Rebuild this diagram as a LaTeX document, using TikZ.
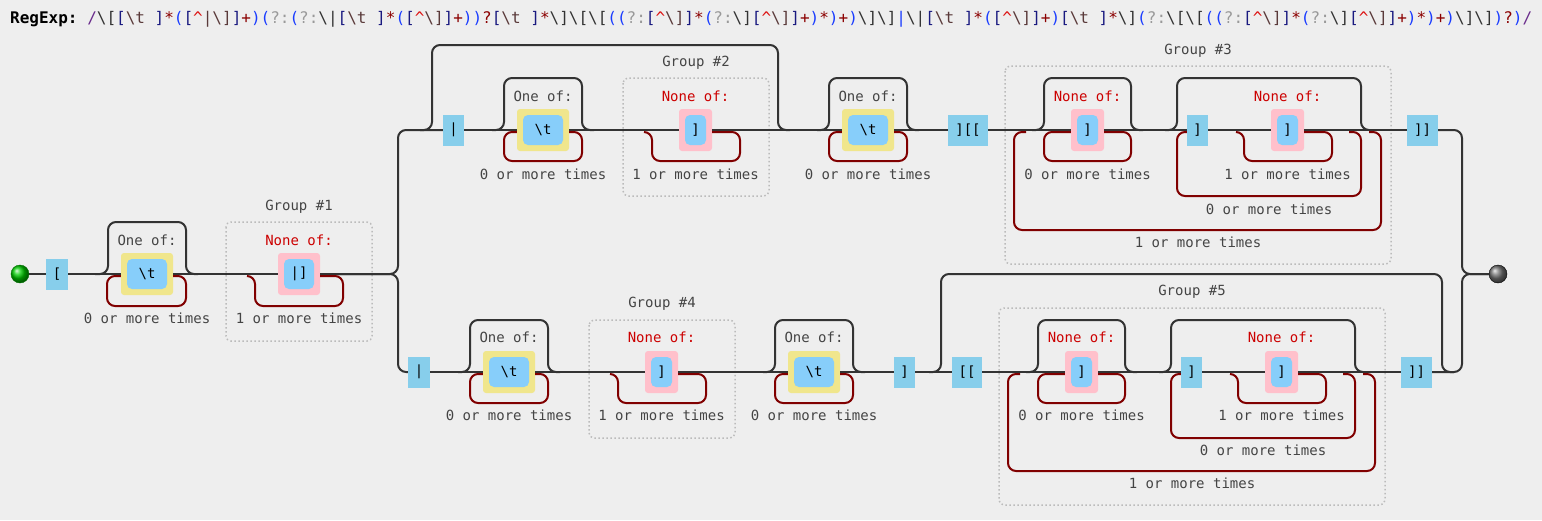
\documentclass[tikz,border=0pt]{standalone}
\usepackage{fontspec}
\setmonofont{DejaVu Sans Mono}
\usetikzlibrary{positioning}

\definecolor{bgcol}{HTML}{EEEEEE}
\definecolor{railcol}{HTML}{333333}
\definecolor{loopcol}{HTML}{800000}
\definecolor{litcol}{HTML}{87CEEB}
\definecolor{incol}{HTML}{87CEFA}
\definecolor{onecol}{HTML}{F0E68C}
\definecolor{nonecol}{HTML}{FFC0CB}
\definecolor{txtcol}{HTML}{444444}
\definecolor{negcol}{HTML}{CC0000}
\definecolor{grpcol}{HTML}{BBBBBB}
% colours of the source line
\definecolor{rxdelim}{HTML}{6A2C8C}
\definecolor{rxesc}{HTML}{333333}
\definecolor{rxset}{HTML}{1A1A80}
\definecolor{rxin}{HTML}{5A3A3A}
\definecolor{rxquant}{HTML}{8B0000}
\definecolor{rxgroup}{HTML}{1A3CFF}
\definecolor{rxnc}{HTML}{999999}
\definecolor{rxneg}{HTML}{DD1111}

\newcommand{\bsl}{\textbackslash}
\newcommand{\rxd}[1]{\textcolor{rxdelim}{#1}}
\newcommand{\rxe}[1]{\textcolor{rxesc}{#1}}
\newcommand{\rxb}[1]{\textcolor{rxset}{#1}}
\newcommand{\rxc}[1]{\textcolor{rxin}{#1}}
\newcommand{\rxq}[1]{\textcolor{rxquant}{#1}}
\newcommand{\rxg}[1]{\textcolor{rxgroup}{#1}}
\newcommand{\rxn}[1]{\textcolor{rxnc}{#1}}
\newcommand{\rxcar}{\textcolor{rxneg}{\textasciicircum}}

\begin{document}
\begin{tikzpicture}[x=1pt,y=-1pt,
    every node/.style={font=\ttfamily\fontsize{14}{16}\selectfont},
    rail/.style={draw=railcol,line width=2pt,rounded corners=8pt},
    rep/.style={draw=loopcol,line width=2pt,rounded corners=8pt},
    lit/.style={fill=litcol,minimum height=31pt,inner sep=0pt},
    oneof/.style={fill=onecol,rounded corners=3pt,minimum width=52pt,minimum height=42pt,inner sep=0pt},
    noneof/.style={fill=nonecol,rounded corners=3pt,minimum width=33pt,minimum height=42pt,inner sep=0pt},
    chr/.style={fill=incol,rounded corners=5pt,minimum width=21pt,minimum height=30pt,inner sep=0pt},
    grp/.style={draw=grpcol,line width=1.5pt,dash pattern=on 1.5pt off 2.5pt,rounded corners=5pt},
    lbl/.style={text=txtcol},
    neg/.style={text=negcol}]
    \useasboundingbox (0,0) rectangle (1542,520);
    \fill[bgcol] (0,0) rectangle (1542,520);

    % source line
    \node[anchor=west,inner sep=0pt,font=\ttfamily\fontsize{16}{18}\selectfont] (title) at (10,19)
      {\textbf{RegExp:}\ \rxd{/}\rxe{\bsl[}\rxb{[}\rxc{\bsl t\ }\rxb{]}\rxq{*}%
       \rxg{(}\rxb{[}\rxcar\rxc{|\bsl]}\rxb{]}\rxq{+}\rxg{)}%
       \rxg{(}\rxn{?:}\rxg{(}\rxn{?:}\rxe{\bsl|}\rxb{[}\rxc{\bsl t\ }\rxb{]}\rxq{*}%
       \rxg{(}\rxb{[}\rxcar\rxc{\bsl]}\rxb{]}\rxq{+}\rxg{)}\rxg{)}\rxq{?}%
       \rxb{[}\rxc{\bsl t\ }\rxb{]}\rxq{*}\rxe{\bsl]\bsl[\bsl[}%
       \rxg{((}\rxn{?:}\rxb{[}\rxcar\rxc{\bsl]}\rxb{]}\rxq{*}%
       \rxg{(}\rxn{?:}\rxe{\bsl]}\rxb{[}\rxcar\rxc{\bsl]}\rxb{]}\rxq{+}\rxg{)}\rxq{*}\rxg{)}\rxq{+}\rxg{)}%
       \rxe{\bsl]\bsl]}\rxg{|}\rxe{\bsl|}\rxb{[}\rxc{\bsl t\ }\rxb{]}\rxq{*}%
       \rxg{(}\rxb{[}\rxcar\rxc{\bsl]}\rxb{]}\rxq{+}\rxg{)}%
       \rxb{[}\rxc{\bsl t\ }\rxb{]}\rxq{*}\rxe{\bsl]}%
       \rxg{(}\rxn{?:}\rxe{\bsl[\bsl[}%
       \rxg{((}\rxn{?:}\rxb{[}\rxcar\rxc{\bsl]}\rxb{]}\rxq{*}%
       \rxg{(}\rxn{?:}\rxe{\bsl]}\rxb{[}\rxcar\rxc{\bsl]}\rxb{]}\rxq{+}\rxg{)}\rxq{*}\rxg{)}\rxq{+}\rxg{)}%
       \rxe{\bsl]\bsl]}\rxg{)}\rxq{?}\rxg{)}\rxd{/}};

    % group frames
    \draw[grp] (226,222) rectangle (372,341);
    \draw[grp] (623,78) rectangle (769,196);
    \draw[grp] (1005,66) rectangle (1391,264);
    \draw[grp] (589,320) rectangle (735,438);
    \draw[grp] (999,308) rectangle (1385,505);
    \node[lbl] (g1) at (299,207) {Group \#1};
    \node[lbl] (g2) at (696,63) {Group \#2};
    \node[lbl] (g3) at (1198,51) {Group \#3};
    \node[lbl] (g4) at (662,304) {Group \#4};
    \node[lbl] (g5) at (1192,292) {Group \#5};

    % start
    \node[circle,minimum size=18pt,inner sep=0pt,draw=green!45!black,ball color=green!80!black] (start) at (20,274) {};
    \node[lit,minimum width=22pt] (lb1) at (57,274) {[};
    \node[lbl] (cs1l) at (147,240) {One of:};
    \node[oneof] (cs1) at (147,274) {};
    \node[chr,minimum width=40pt] (cs1c) at (cs1) {\textbackslash t};
    \node[lbl] (r1) at (147,318) {0 or more times};
    \node[neg] (pk1l) at (299,240) {None of:};
    \node[noneof,minimum width=42pt] (pk1) at (299,274) {};
    \node[chr,minimum width=30pt] (pk1c) at (pk1) {|]};
    \node[lbl] (r2) at (299,318) {1 or more times};

    % upper branch
    \node[lit,minimum width=21pt] (lb2) at (453.5,130) {|};
    \node[lbl] (cs2l) at (543,96) {One of:};
    \node[oneof] (cs2) at (543,130) {};
    \node[chr,minimum width=40pt] (cs2c) at (cs2) {\textbackslash t};
    \node[lbl] (r3) at (543,174) {0 or more times};
    \node[neg] (pk2l) at (695.5,96) {None of:};
    \node[noneof] (pk2) at (695.5,130) {};
    \node[chr] (pk2c) at (pk2) {]};
    \node[lbl] (r4) at (695.5,174) {1 or more times};
    \node[lbl] (cs3l) at (868,96) {One of:};
    \node[oneof] (cs3) at (868,130) {};
    \node[chr,minimum width=40pt] (cs3c) at (cs3) {\textbackslash t};
    \node[lbl] (r5) at (868,174) {0 or more times};
    \node[lit,minimum width=40pt] (lb4) at (968,130) {][[};
    \node[neg] (pk3l) at (1087.5,96) {None of:};
    \node[noneof] (pk3) at (1087.5,130) {};
    \node[chr] (pk3c) at (pk3) {]};
    \node[lbl] (r6) at (1087.5,174) {0 or more times};
    \node[lit,minimum width=21pt] (lb5) at (1197.5,130) {]};
    \node[neg] (pk4l) at (1287.5,96) {None of:};
    \node[noneof] (pk4) at (1287.5,130) {};
    \node[chr] (pk4c) at (pk4) {]};
    \node[lbl] (r7) at (1287.5,174) {1 or more times};
    \node[lbl] (r8) at (1269,209) {0 or more times};
    \node[lbl] (r9) at (1198,242) {1 or more times};
    \node[lit,minimum width=31pt] (lb6) at (1422.5,130) {]]};

    % lower branch
    \node[lit,minimum width=22pt] (lb3) at (419,372) {|};
    \node[lbl] (cs4l) at (509,337) {One of:};
    \node[oneof] (cs4) at (509,372) {};
    \node[chr,minimum width=40pt] (cs4c) at (cs4) {\textbackslash t};
    \node[lbl] (r10) at (509,415) {0 or more times};
    \node[neg] (pk5l) at (661.5,337) {None of:};
    \node[noneof] (pk5) at (661.5,372) {};
    \node[chr] (pk5c) at (pk5) {]};
    \node[lbl] (r11) at (661.5,415) {1 or more times};
    \node[lbl] (cs5l) at (814,337) {One of:};
    \node[oneof] (cs5) at (814,372) {};
    \node[chr,minimum width=40pt] (cs5c) at (cs5) {\textbackslash t};
    \node[lbl] (r12) at (814,415) {0 or more times};
    \node[lit,minimum width=21pt] (lb7) at (904.5,372) {]};
    \node[lit,minimum width=30pt] (lb8) at (967,372) {[[};
    \node[neg] (pk6l) at (1081.5,337) {None of:};
    \node[noneof] (pk6) at (1081.5,372) {};
    \node[chr] (pk6c) at (pk6) {]};
    \node[lbl] (r13) at (1081.5,415) {0 or more times};
    \node[lit,minimum width=21pt] (lb10) at (1191.5,372) {]};
    \node[neg] (pk7l) at (1281.5,337) {None of:};
    \node[noneof] (pk7) at (1281.5,372) {};
    \node[chr] (pk7c) at (pk7) {]};
    \node[lbl] (r14) at (1281.5,415) {1 or more times};
    \node[lbl] (r15) at (1263,450) {0 or more times};
    \node[lbl] (r16) at (1192,483) {1 or more times};
    \node[lit,minimum width=31pt] (lb9) at (1416.5,372) {]]};

    % end
    \node[circle,minimum size=18pt,inner sep=0pt,draw=black,ball color=black!55] (end) at (1498,274) {};

    % rails
    \draw[rail] (start) -- (lb1);
    \draw[rail] (lb1) -- (cs1);
    \draw[rail] (cs1) -- (pk1);
    \draw[rail] (pk1.east) -| (398,130) -- (lb2);
    \draw[rail] (pk1.east) -| (398,372) -- (lb3);
    \draw[rail] (lb2) -- (cs2);
    \draw[rail] (cs2) -- (pk2);
    \draw[rail] (pk2) -- (cs3);
    \draw[rail] (cs3) -- (lb4);
    \draw[rail] (lb4) -- (pk3);
    \draw[rail] (pk3) -- (lb5);
    \draw[rail] (lb5) -- (pk4);
    \draw[rail] (pk4) -- (lb6);
    \draw[rail] (lb6.east) -| (1462,274) -- (end);
    \draw[rail] (lb3) -- (cs4);
    \draw[rail] (cs4) -- (pk5);
    \draw[rail] (pk5) -- (cs5);
    \draw[rail] (cs5) -- (lb7);
    \draw[rail] (lb7) -- (lb8);
    \draw[rail] (lb8) -- (pk6);
    \draw[rail] (pk6) -- (lb10);
    \draw[rail] (lb10) -- (pk7);
    \draw[rail] (pk7) -- (lb9);
    \draw[rail] (lb9.east) -| (1462,274) -- (end);

    % skips
    \draw[rail] (95,274) -| (108,222) -| (186,274) -- (198,274);
    \draw[rail] (420,130) -| (432,45) -| (778,130) -- (790,130);
    \draw[rail] (492,130) -| (504,78) -| (582,130) -- (594,130);
    \draw[rail] (817,130) -| (829,78) -| (907,130) -- (919,130);
    \draw[rail] (1032,130) -| (1044,78) -| (1131,130) -- (1143,130);
    \draw[rail] (1165,130) -| (1177,78) -| (1361,130) -- (1373,130);
    \draw[rail] (458,372) -| (470,320) -| (548,372) -- (560,372);
    \draw[rail] (763,372) -| (775,320) -| (853,372) -- (865,372);
    \draw[rail] (929,372) -| (941,274) -| (1442,372) -- (1454,372);
    \draw[rail] (1026,372) -| (1038,320) -| (1125,372) -- (1137,372);
    \draw[rail] (1159,372) -| (1171,320) -| (1355,372) -- (1367,372);

    % loops
    \draw[rep] ([yshift=-2pt]cs1.east) -- (186,276) -- (186,306) -- (107,306) -- (107,276) -- ([yshift=-2pt]cs1.west);
    \draw[rep] ([yshift=-2pt]pk1.east) -- (343,276) -- (343,306) -- (255,306) -- (255,276) -- (247,276);
    \draw[rep] ([yshift=-2pt]cs2.east) -- (582,132) -- (582,161) -- (504,161) -- (504,132) -- ([yshift=-2pt]cs2.west);
    \draw[rep] ([yshift=-2pt]pk2.east) -- (740,132) -- (740,161) -- (652,161) -- (652,132) -- (644,132);
    \draw[rep] ([yshift=-2pt]cs3.east) -- (907,132) -- (907,161) -- (829,161) -- (829,132) -- ([yshift=-2pt]cs3.west);
    \draw[rep] ([yshift=-2pt]pk3.east) -- (1131,132) -- (1131,161) -- (1044,161) -- (1044,132) -- ([yshift=-2pt]pk3.west);
    \draw[rep] ([yshift=-2pt]pk4.east) -- (1332,132) -- (1332,161) -- (1244,161) -- (1244,132) -- (1236,132);
    \draw[rep] (1349,132) -- (1361,132) -- (1361,196) -- (1177,196) -- (1177,132) -- ([yshift=-2pt]lb5.west);
    \draw[rep] (1369,132) -- (1381,132) -- (1381,230) -- (1014,230) -- (1014,132) -- (1026,132);
    \draw[rep] ([yshift=-2pt]cs4.east) -- (548,374) -- (548,403) -- (470,403) -- (470,374) -- ([yshift=-2pt]cs4.west);
    \draw[rep] ([yshift=-2pt]pk5.east) -- (706,374) -- (706,403) -- (618,403) -- (618,374) -- (610,374);
    \draw[rep] ([yshift=-2pt]cs5.east) -- (853,374) -- (853,403) -- (775,403) -- (775,374) -- ([yshift=-2pt]cs5.west);
    \draw[rep] ([yshift=-2pt]pk6.east) -- (1125,374) -- (1125,403) -- (1038,403) -- (1038,374) -- ([yshift=-2pt]pk6.west);
    \draw[rep] ([yshift=-2pt]pk7.east) -- (1326,374) -- (1326,403) -- (1238,403) -- (1238,374) -- (1230,374);
    \draw[rep] (1343,374) -- (1355,374) -- (1355,438) -- (1171,438) -- (1171,374) -- ([yshift=-2pt]lb10.west);
    \draw[rep] (1363,374) -- (1375,374) -- (1375,471) -- (1008,471) -- (1008,374) -- (1020,374);
  \end{tikzpicture}
\end{document}
